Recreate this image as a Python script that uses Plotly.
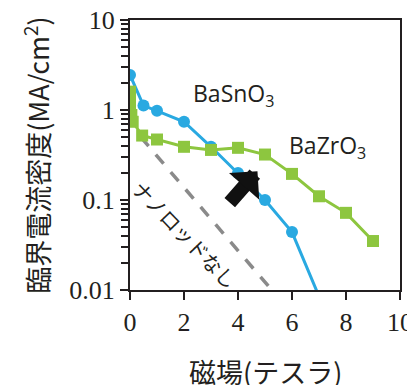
import plotly.graph_objects as go

# Data
field_sn = [0, 0.5, 1, 2, 3, 4, 5, 6, 7]
jc_sn = [2.45, 1.12, 0.98, 0.74, 0.39, 0.2, 0.1, 0.044, 0.0085]

field_zr = [0, 0, 0, 0.05, 0.1, 0.45, 1, 2, 3, 4, 5, 6, 7, 8, 9]
jc_zr = [1.6, 1.3, 1.05, 0.88, 0.74, 0.52, 0.47, 0.39, 0.36, 0.38, 0.32, 0.195, 0.11, 0.072, 0.035]

field_none = [0.4, 5.25]
jc_none = [0.5, 0.01]

x_ticks = [0, 2, 4, 6, 8, 10]
y_ticks = [0.01, 0.1, 1, 10]
y_ticklabels = ["0.01", "0.1", "1", "10"]

x_title = "磁場(テスラ)"
y_title = "臨界電流密度(MA/cm<sup>2</sup>)"

blue = "#29a9e1"
green = "#8dc63f"
ink = "#231f20"
serif = "Liberation Serif"

fig = go.Figure()
fig.add_trace(go.Scatter(x=field_none, y=jc_none, mode="lines",
                         line=dict(color="#8a8a8a", width=3.5, dash="12px,11px"),
                         hoverinfo="skip"))
fig.add_trace(go.Scatter(x=field_sn, y=jc_sn, mode="lines+markers",
                         line=dict(color=blue, width=3),
                         marker=dict(symbol="circle", size=12, color=blue)))
fig.add_trace(go.Scatter(x=field_zr, y=jc_zr, mode="lines+markers",
                         line=dict(color=green, width=3),
                         marker=dict(symbol="square", size=12, color=green)))

fig.update_layout(
    width=407, height=377,
    margin=dict(l=122, r=15, t=12, b=95),
    paper_bgcolor="white", plot_bgcolor="white",
    showlegend=False,
    font=dict(family="Noto Sans CJK JP", color=ink),
)
fig.update_xaxes(
    range=[0, 10], tickvals=x_ticks, ticks="outside", ticklen=8, tickwidth=2,
    tickcolor=ink, showline=True, linecolor=ink, linewidth=2, mirror=True,
    showgrid=False, zeroline=False, automargin=False, ticklabeloverflow="allow",
    tickfont=dict(family=serif, size=26, color=ink),
)
fig.update_yaxes(
    type="log", range=[-2, 1], tickvals=y_ticks, ticktext=y_ticklabels,
    ticks="outside", ticklen=8, tickwidth=2, tickcolor=ink,
    minor=dict(ticks="outside", ticklen=7, tickwidth=1.5, tickcolor=ink, dtick="D1", showgrid=False),
    showline=True, linecolor=ink, linewidth=2, mirror=True,
    showgrid=False, zeroline=False, automargin=False, ticklabeloverflow="allow",
    tickfont=dict(family=serif, size=26, color=ink),
    title=dict(text=y_title, font=dict(family="Noto Sans CJK JP", size=27, color=ink), standoff=12),
)

fig.add_annotation(x=0.5, y=-0.303, xref="paper", yref="paper", text=x_title, showarrow=False,
                   xanchor="center", yanchor="middle",
                   font=dict(family="Noto Sans CJK JP", size=27, color=ink))
fig.add_annotation(x=3.83, y=0.17, xref="x", yref="y", text="BaSnO<sub>3</sub>", showarrow=False,
                   font=dict(family="Open Sans", size=23, color=ink))
fig.add_annotation(x=7.3, y=-0.41, xref="x", yref="y", text="BaZrO<sub>3</sub>", showarrow=False,
                   font=dict(family="Open Sans", size=23, color=ink))
fig.add_annotation(x=2.05, y=-1.38, xref="x", yref="y", text="ナノロッドなし", showarrow=False,
                   textangle=46, font=dict(family="Noto Sans CJK JP", size=20, color=ink))
fig.add_annotation(x=4.72, y=-0.68, xref="x", yref="y", ax=-29, ay=33, text="",
                   showarrow=True, arrowhead=1, arrowwidth=14, arrowsize=0.48, arrowcolor="#111111",
                   standoff=0)

fig.write_html("out.html")
